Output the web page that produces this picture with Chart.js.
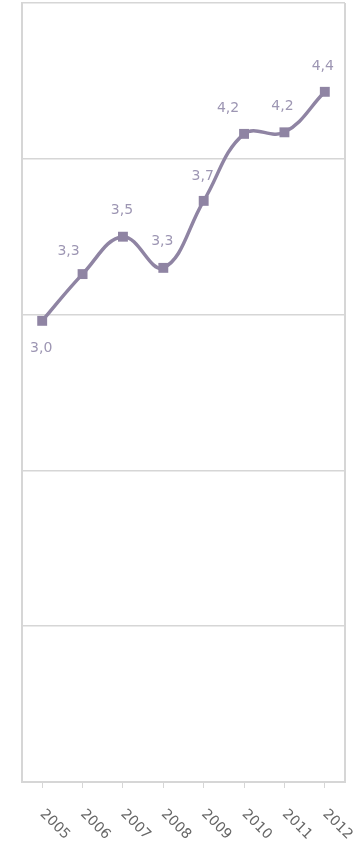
<!DOCTYPE html>
<html>
<head>
<meta charset="utf-8">
<script src="https://cdn.jsdelivr.net/npm/chart.js@4/dist/chart.umd.min.js"></script>
<style>
html,body{margin:0;padding:0;background:#fff;}
#wrap{width:356px;height:849px;position:relative;}
</style>
</head>
<body>
<div id="wrap"><canvas id="c"></canvas></div>
<script>
// ---- data ----
const categories = ['2005','2006','2007','2008','2009','2010','2011','2012'];
const values = [2.96, 3.26, 3.50, 3.30, 3.73, 4.16, 4.17, 4.43];
const yTicks = [0, 1, 2, 3, 4, 5];

// ---- style ----
const LINE = '#8f84a3';
const LABEL = '#9d96b3';
const GRID = '#d6d6d6';
// label placement per point: [dx, dy]
const labelShift = [[-1,28],[-14,-23],[-1,-26],[-1,-27],[-1,-25],[-16,-26],[-2,-26],[-2,-25]];

const fmt = v => v.toFixed(1).replace('.', ',');

const labelPlugin = {
  id: 'labels',
  afterDatasetsDraw(chart) {
    const ctx = chart.ctx;
    const meta = chart.getDatasetMeta(0);
    ctx.save();
    ctx.font = '14px "DejaVu Sans"';
    ctx.fillStyle = LABEL;
    ctx.textAlign = 'center';
    ctx.textBaseline = 'middle';
    meta.data.forEach((p, i) => {
      const s = labelShift[i];
      ctx.fillText(fmt(values[i]), p.x + s[0], p.y + s[1]);
    });
    ctx.restore();
  },
  afterDraw(chart) {
    const ctx = chart.ctx;
    const a = chart.chartArea;
    const xs = chart.scales.x;
    ctx.save();
    // right border
    ctx.strokeStyle = GRID;
    ctx.lineWidth = 2;
    ctx.beginPath();
    ctx.moveTo(a.right, a.top);
    ctx.lineTo(a.right, a.bottom);
    ctx.stroke();
    // rotated x labels
    ctx.font = '14px "DejaVu Sans"';
    ctx.fillStyle = '#666666';
    ctx.textAlign = 'left';
    ctx.textBaseline = 'middle';
    categories.forEach((c, i) => {
      const x = xs.getPixelForValue(i);
      ctx.save();
      ctx.translate(x, a.bottom + 30);
      ctx.rotate(Math.PI / 4);
      ctx.fillText(c, 0, 0);
      ctx.restore();
    });
    ctx.restore();
  }
};

new Chart(document.getElementById('c'), {
  type: 'line',
  data: {
    labels: categories,
    datasets: [{
      data: values,
      borderColor: LINE,
      backgroundColor: LINE,
      borderWidth: 3.5,
      tension: 0.4,
      pointStyle: 'rect',
      pointRadius: 7,
      pointHoverRadius: 7,
      pointBackgroundColor: LINE,
      pointBorderWidth: 0,
      clip: false
    }]
  },
  options: {
    responsive: true,
    maintainAspectRatio: false,
    animation: false,
    events: [],
    layout: { autoPadding: false, padding: { left: 22, right: 11, top: 3, bottom: 61 } },
    plugins: { legend: { display: false }, tooltip: { enabled: false } },
    scales: {
      x: {
        offset: true,
        grid: { offset: false, drawOnChartArea: false, drawTicks: true, tickLength: 6, color: GRID, lineWidth: 1 },
        border: { display: true, color: GRID, width: 2 },
        ticks: { display: false }
      },
      y: {
        min: yTicks[0],
        max: yTicks[yTicks.length - 1],
        afterBuildTicks(axis) { axis.ticks = yTicks.map(v => ({ value: v })); },
        grid: { color: GRID, lineWidth: 1.5, drawTicks: false },
        border: { display: true, color: GRID, width: 2 },
        ticks: { display: false }
      }
    }
  },
  plugins: [labelPlugin]
});
</script>
</body>
</html>
